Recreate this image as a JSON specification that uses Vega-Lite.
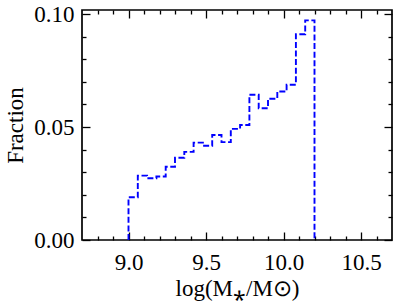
{
  "$schema": "https://vega.github.io/schema/vega-lite/v6.json",
  "width": 310,
  "height": 230,
  "autosize": {"type": "none"},
  "padding": {"left": 82, "top": 10, "right": 7, "bottom": 67},
  "data": {"values": [
    {"i": 0, "edge": 9.0, "fraction": 0.0},
    {"i": 1, "edge": 9.0, "fraction": 0.0189},
    {"i": 2, "edge": 9.06, "fraction": 0.0285},
    {"i": 3, "edge": 9.12, "fraction": 0.0273},
    {"i": 4, "edge": 9.18, "fraction": 0.0281},
    {"i": 5, "edge": 9.24, "fraction": 0.0324},
    {"i": 6, "edge": 9.30, "fraction": 0.0364},
    {"i": 7, "edge": 9.36, "fraction": 0.0390},
    {"i": 8, "edge": 9.42, "fraction": 0.0431},
    {"i": 9, "edge": 9.48, "fraction": 0.0417},
    {"i": 10, "edge": 9.54, "fraction": 0.0465},
    {"i": 11, "edge": 9.60, "fraction": 0.0433},
    {"i": 12, "edge": 9.66, "fraction": 0.0492},
    {"i": 13, "edge": 9.72, "fraction": 0.0509},
    {"i": 14, "edge": 9.78, "fraction": 0.0643},
    {"i": 15, "edge": 9.84, "fraction": 0.0583},
    {"i": 16, "edge": 9.90, "fraction": 0.0625},
    {"i": 17, "edge": 9.96, "fraction": 0.0657},
    {"i": 18, "edge": 10.02, "fraction": 0.0687},
    {"i": 19, "edge": 10.08, "fraction": 0.0911},
    {"i": 20, "edge": 10.14, "fraction": 0.0972},
    {"i": 21, "edge": 10.20, "fraction": 0.0972},
    {"i": 22, "edge": 10.20, "fraction": 0.0}
  ]},
  "encoding": {
    "x": {"field": "edge", "type": "quantitative", "scale": {"domain": [8.7, 10.7], "nice": false, "zero": false}},
    "y": {"field": "fraction", "type": "quantitative", "scale": {"domain": [0, 0.1018], "nice": false}},
    "order": {"field": "i", "type": "quantitative"}
  },
  "layer": [
    {
      "mark": {"type": "line", "interpolate": "step-after", "color": "#0000ff", "strokeWidth": 1.9, "strokeDash": [6, 2.6], "clip": true},
      "encoding": {
        "x": {"field": "edge", "type": "quantitative", "axis": {"orient": "bottom", "values": [9.0, 9.5, 10.0, 10.5], "format": ".1f", "tickSize": -8, "labelPadding": 19, "title": "log(M⁎/M⊙)", "titlePadding": 3}},
        "y": {"field": "fraction", "type": "quantitative", "axis": {"orient": "left", "values": [0, 0.05, 0.1], "format": ".2f", "tickSize": -8, "labelPadding": 16, "title": "Fraction", "titlePadding": 6}}
      }
    },
    {
      "mark": {"type": "line", "strokeOpacity": 0},
      "encoding": {
        "x": {"field": "edge", "type": "quantitative", "axis": {"orient": "bottom", "values": [8.8, 8.9, 9.1, 9.2, 9.3, 9.4, 9.6, 9.7, 9.8, 9.9, 10.1, 10.2, 10.3, 10.4, 10.6], "tickSize": -4, "labels": false, "title": null, "domain": false}},
        "y": {"field": "fraction", "type": "quantitative", "axis": {"orient": "left", "values": [0.01, 0.02, 0.03, 0.04, 0.06, 0.07, 0.08, 0.09], "tickSize": -4, "labels": false, "title": null, "domain": false}}
      }
    },
    {
      "mark": {"type": "line", "strokeOpacity": 0},
      "encoding": {
        "x": {"field": "edge", "type": "quantitative", "axis": {"orient": "top", "values": [9.0, 9.5, 10.0, 10.5], "tickSize": -8, "labels": false, "title": null, "domain": false}},
        "y": {"field": "fraction", "type": "quantitative", "axis": {"orient": "right", "values": [0, 0.05, 0.1], "tickSize": -8, "labels": false, "title": null, "domain": false}}
      }
    },
    {
      "mark": {"type": "line", "strokeOpacity": 0},
      "encoding": {
        "x": {"field": "edge", "type": "quantitative", "axis": {"orient": "top", "values": [8.8, 8.9, 9.1, 9.2, 9.3, 9.4, 9.6, 9.7, 9.8, 9.9, 10.1, 10.2, 10.3, 10.4, 10.6], "tickSize": -4, "labels": false, "title": null, "domain": false}},
        "y": {"field": "fraction", "type": "quantitative", "axis": {"orient": "right", "values": [0.01, 0.02, 0.03, 0.04, 0.06, 0.07, 0.08, 0.09], "tickSize": -4, "labels": false, "title": null, "domain": false}}
      }
    }
  ],
  "resolve": {"axis": {"x": "independent", "y": "independent"}},
  "config": {
    "view": {"stroke": "#000000", "strokeWidth": 1.7},
    "axis": {
      "domain": false,
      "grid": false,
      "tickColor": "#000000",
      "tickWidth": 1.3,
      "labelColor": "#000000",
      "labelFont": "Liberation Serif",
      "labelFontSize": 23,
      "titleColor": "#000000",
      "titleFont": "Liberation Serif",
      "titleFontSize": 23,
      "titleFontWeight": "normal"
    }
  }
}
